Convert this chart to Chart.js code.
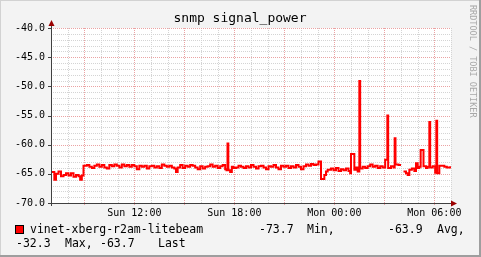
<!DOCTYPE html>
<html>
<head>
<meta charset="utf-8">
<script src="https://cdn.jsdelivr.net/npm/chart.js@4.4.1/dist/chart.umd.min.js"></script>
<style>
  html, body { margin: 0; padding: 0; background: #f3f3f3; }
  canvas { display: block; }
</style>
</head>
<body>
<canvas id="rrd" width="481" height="257"></canvas>
<script>
// hours since Sun 07:00, value holds until next sample
const hours = [
  0.00, 0.20, 0.30, 0.45, 0.60, 0.75, 0.90, 1.05, 1.20, 1.35,
  1.50, 1.65, 1.75, 1.85, 1.95, 2.15, 2.30, 2.45, 2.60, 2.75,
  2.90, 3.05, 3.20, 3.35, 3.50, 3.65, 3.80, 3.95, 4.10, 4.25,
  4.40, 4.55, 4.70, 4.85, 5.00, 5.15, 5.30, 5.45, 5.60, 5.75,
  5.90, 6.05, 6.20, 6.35, 6.50, 6.65, 6.80, 6.95, 7.10, 7.25,
  7.40, 7.50, 7.60, 7.75, 7.90, 8.05, 8.20, 8.35, 8.50, 8.65,
  8.80, 8.95, 9.10, 9.25, 9.40, 9.55, 9.70, 9.85, 10.00, 10.15,
  10.30, 10.45, 10.53, 10.59, 10.64, 10.75, 10.85, 10.95, 11.10, 11.25,
  11.40, 11.55, 11.70, 11.85, 12.00, 12.15, 12.30, 12.45, 12.60, 12.75,
  12.90, 13.05, 13.20, 13.35, 13.50, 13.65, 13.80, 13.95, 14.10, 14.25,
  14.40, 14.55, 14.70, 14.85, 15.00, 15.15, 15.30, 15.45, 15.60, 15.75,
  15.90, 16.05, 16.20, 16.40, 16.50, 16.60, 16.80, 16.95, 17.10, 17.25,
  17.40, 17.55, 17.70, 17.85, 17.95, 18.00, 18.20, 18.30, 18.40, 18.50,
  18.55, 18.70, 18.85, 19.00, 19.15, 19.30, 19.45, 19.60, 19.75, 19.90,
  20.05, 20.18, 20.23, 20.40, 20.55, 20.62, 20.67, 20.85, 21.00, 21.05,
  21.15, 21.30, 21.40, 21.50, 21.65, 21.80, 21.90, 22.00, 22.10, 22.18,
  22.35, 22.50, 22.60, 22.70, 22.75, 22.90, 23.05, 23.12, 23.17, 23.30,
  23.45, 23.60, 23.75, 23.95
];
const signal = [
  -64.7, -66.0, -65.0, -64.6, -65.4, -65.2, -64.9, -65.3, -64.9, -65.5,
  -65.2, -65.4, -66.0, -65.3, -63.6, -63.5, -63.8, -64.0, -63.6, -63.4,
  -63.8, -63.5, -63.9, -64.1, -63.5, -63.7, -63.4, -63.6, -63.9, -63.4,
  -63.7, -63.5, -63.8, -63.5, -63.7, -64.2, -63.6, -63.8, -63.6, -64.1,
  -63.7, -63.6, -63.9, -63.7, -64.0, -63.4, -63.6, -63.8, -63.6, -63.9,
  -64.1, -64.7, -63.9, -63.5, -64.0, -63.6, -63.8, -63.5, -63.6, -63.9,
  -64.2, -63.7, -64.1, -63.8, -63.7, -63.4, -63.8, -63.6, -64.0, -63.7,
  -63.5, -64.2, -64.4, -59.8, -64.4, -64.7, -63.8, -64.0, -63.9, -63.6,
  -63.8, -64.0, -63.7, -63.9, -63.5, -63.8, -64.1, -63.7, -63.6, -63.9,
  -64.2, -63.7, -63.8, -63.5, -63.9, -64.2, -63.6, -63.8, -63.6, -64.0,
  -63.7, -63.9, -63.5, -63.8, -64.2, -63.7, -63.4, -63.6, -63.3, -63.5,
  -63.4, -62.9, -65.9, -65.2, -64.6, -64.3, -64.1, -64.4, -64.0, -64.5,
  -64.2, -64.4, -64.1, -64.5, -64.9, -61.6, -64.3, -63.9, -64.6, -49.1,
  -64.1, -63.8, -64.0, -63.7, -63.4, -63.8, -63.6, -64.0, -63.7, -63.9,
  -62.6, -55.0, -64.0, -63.7, -63.9, -58.9, -63.4, -63.5, -63.5, null,
  -64.6, -64.9, -65.2, -64.3, -64.1, -64.5, -63.2, -64.0, -63.8, -60.9,
  -63.7, -64.0, -63.8, -56.1, -63.9, -63.7, -64.8, -55.9, -64.9, -63.6,
  -63.6, -63.8, -63.9, -63.7
];

const yTicks = [-40, -45, -50, -55, -60, -65, -70];
const xTicks = [5, 11, 17, 23];
const xTickLabels = ["Sun 12:00", "Sun 18:00", "Mon 00:00", "Mon 06:00"];
const title = "snmp signal_power";
const seriesName = "vinet-xberg-r2am-litebeam";
const statValues = ["-73.7", "-63.9", "-32.3", "-63.7"];
const statNames = ["Min,", "Avg,", "Max,", "Last"];

const MONO = '"DejaVu Sans Mono", monospace';

// background, frame and white canvas area
const framePlugin = {
    id: "frame",
    beforeDraw(chart) {
        const { ctx, chartArea: a, width, height } = chart;
        ctx.save();
        ctx.fillStyle = "#f3f3f3";
        ctx.fillRect(0, 0, width, height);
        ctx.fillStyle = "#d2d2d2";
        ctx.fillRect(0, 0, width, 1);
        ctx.fillRect(0, 0, 1, height);
        ctx.fillStyle = "#9e9e9e";
        ctx.fillRect(width - 2, 0, 2, height);
        ctx.fillRect(0, height - 2, width, 2);
        ctx.fillStyle = "#ffffff";
        ctx.fillRect(a.left, a.top, a.right - a.left, a.bottom - a.top);
        ctx.restore();
    }
};

// dotted rrd grid
const gridPlugin = {
    id: "rrdgrid",
    beforeDatasetsDraw(chart) {
        const { ctx, chartArea: a, scales: { x, y } } = chart;
        ctx.save();
        ctx.lineWidth = 1;
        ctx.setLineDash([1, 1]);
        const line = (x1, y1, x2, y2, color) => {
            ctx.strokeStyle = color;
            ctx.beginPath();
            ctx.moveTo(x1, y1);
            ctx.lineTo(x2, y2);
            ctx.stroke();
        };
        for (let v = -69; v <= -40; v++) {
            if (v % 5 === 0) continue;
            const py = Math.round(y.getPixelForValue(v)) + 0.5;
            line(a.left, py, a.right, py, "#d4d4d4");
        }
        for (let h = 1; h <= 24; h++) {
            if (h % 3 === 2) continue;
            const px = Math.round(x.getPixelForValue(h)) + 0.5;
            line(px, a.top, px, a.bottom, "#d4d4d4");
        }
        for (let v = -65; v <= -40; v += 5) {
            const py = Math.round(y.getPixelForValue(v)) + 0.5;
            line(a.left, py, a.right, py, "#eba3a3");
        }
        for (let h = 2; h <= 24; h += 3) {
            const px = Math.round(x.getPixelForValue(h)) + 0.5;
            line(px, a.top, px, a.bottom + 3, "#eba3a3");
        }
        ctx.restore();
    }
};

// axes, arrows, labels, title, legend, watermark
const textPlugin = {
    id: "rrdtext",
    afterDatasetsDraw(chart) {
        const { ctx, chartArea: a, scales: { x, y }, width } = chart;
        ctx.save();
        const ax = a.left + 0.5, ay = a.bottom + 0.5;
        ctx.strokeStyle = "#404040";
        ctx.lineWidth = 1;
        ctx.beginPath();
        ctx.moveTo(ax, a.bottom + 3);
        ctx.lineTo(ax, a.top - 4);
        ctx.moveTo(a.left - 3, ay);
        ctx.lineTo(a.right + 2, ay);
        yTicks.forEach(v => {
            const py = Math.round(y.getPixelForValue(v)) + 0.5;
            ctx.moveTo(a.left - 3, py);
            ctx.lineTo(a.left, py);
        });
        ctx.stroke();
        // arrows
        ctx.fillStyle = "#9b0000";
        ctx.beginPath();
        ctx.moveTo(ax, a.top - 8);
        ctx.lineTo(ax - 3, a.top - 2);
        ctx.lineTo(ax + 3, a.top - 2);
        ctx.closePath();
        ctx.fill();
        ctx.beginPath();
        ctx.moveTo(a.right + 6, ay);
        ctx.lineTo(a.right, ay - 3);
        ctx.lineTo(a.right, ay + 3);
        ctx.closePath();
        ctx.fill();

        ctx.fillStyle = "#000";
        ctx.font = "10px " + MONO;
        ctx.textAlign = "right";
        ctx.textBaseline = "middle";
        yTicks.forEach(v => ctx.fillText(v.toFixed(1), 45, y.getPixelForValue(v)));
        ctx.textAlign = "center";
        xTicks.forEach((h, i) => ctx.fillText(xTickLabels[i], x.getPixelForValue(h), 213));

        ctx.font = "13px " + MONO;
        ctx.fillText(title, 240, 19);

        // legend
        ctx.fillStyle = "#ff0000";
        ctx.fillRect(15, 225, 9, 9);
        ctx.strokeStyle = "#000";
        ctx.strokeRect(15.5, 225.5, 8, 8);
        ctx.fillStyle = "#000";
        ctx.font = "11.5px " + MONO;
        ctx.textAlign = "left";
        ctx.fillText(seriesName, 30, 230);
        ctx.fillText(statValues[0], 259, 230);
        ctx.fillText(statNames[0], 307, 230);
        ctx.fillText(statValues[1], 388, 230);
        ctx.fillText(statNames[1], 437, 230);
        ctx.fillText(statValues[2], 16, 244);
        ctx.fillText(statNames[2], 65, 244);
        ctx.fillText(statValues[3], 100, 244);
        ctx.fillText(statNames[3], 158, 244);

        // watermark
        ctx.translate(width - 9, 5);
        ctx.rotate(Math.PI / 2);
        ctx.fillStyle = "#a8a8a8";
        ctx.font = "8.5px " + MONO;
        ctx.fillText("RRDTOOL / TOBI OETIKER", 0, 0);
        ctx.restore();
    }
};

new Chart(document.getElementById("rrd").getContext("2d"), {
    type: "line",
    data: {
        datasets: [{
            label: seriesName,
            data: hours.map((h, i) => ({ x: h, y: signal[i] })),
            stepped: true,
            borderColor: "#ff0000",
            borderWidth: 2,
            borderJoinStyle: "miter",
            pointRadius: 0,
            spanGaps: false,
            fill: false
        }]
    },
    options: {
        responsive: false,
        animation: false,
        devicePixelRatio: 1,
        layout: { padding: { left: 51, right: 30, top: 28, bottom: 54 } },
        plugins: { legend: { display: false }, title: { display: false }, tooltip: { enabled: false } },
        scales: {
            x: { type: "linear", min: 0, max: 24, display: false },
            y: { min: -70, max: -40, display: false }
        }
    },
    plugins: [framePlugin, gridPlugin, textPlugin]
});
</script>
</body>
</html>
